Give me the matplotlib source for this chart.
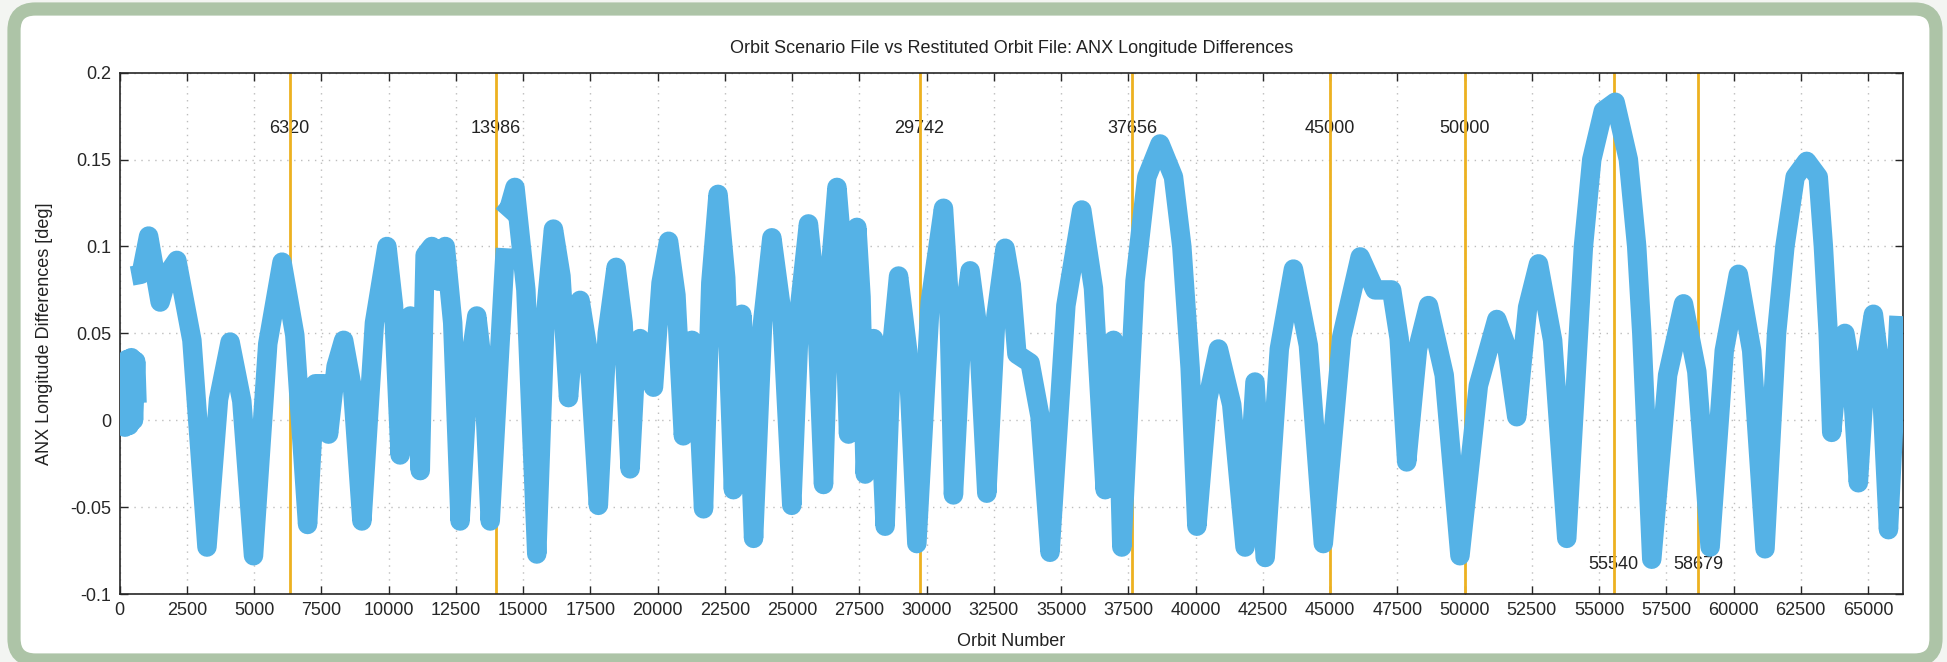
import numpy as np
import matplotlib
matplotlib.use("Agg")
from matplotlib import pyplot as plt
from matplotlib.patches import FancyBboxPatch
from matplotlib.ticker import FuncFormatter

plt.rcParams['font.family'] = ['Liberation Sans', 'DejaVu Sans']
plt.rcParams['axes.unicode_minus'] = False

# ANX longitude difference envelope (nan = gap in the data)
orbit = [0, 60, 130, 200, 280, 360, 440, 520, 600, 650, 650,
         450, 800, 1080, 1510, 1820, 2130, 2690, 3250, 3680, 4110, 4545, 4980,
         5510, 6040, 6515, 6990, 7280, 7600, 7770, 8050, 8330, 8670, 9010, 9475,
         9940, 10185, 10430, 10620, 10810, 10995, 11180, 11360, 11610, 11860,
         12110, 12385, 12660, 12970, 13280, 13530, 13780, 14340, 14340,
         14250, 14480, 14700, 15105, 15510, 15820, 16130, 16410, 16690, 16905,
         17120, 17460, 17800, 18130, 18460, 18720, 18980, 19165, 19350, 19850,
         20130, 20410, 20685, 20960, 21280, 21495, 21710, 21980, 22250, 22535,
         22820, 22975, 23130, 23350, 23570, 23910, 24250, 24620, 24990, 25300,
         25610, 25890, 26170, 26420, 26670, 26885, 27100, 27255, 27410, 27565,
         27720, 27875, 28030, 28245, 28460, 28710, 28960, 29300, 29640, 30135,
         30630, 30815, 31000, 31310, 31620, 31930, 32240, 32580, 32920, 33150,
         33360, 33850, 34220, 34590, 35180, 35770, 36205, 36640, 36795, 36950,
         37105, 37260, 37750, 38190, 38680, 39180, 39490, 39800, 40050, 40450,
         40850, 41345, 41840, 42210, 42590, 43115, 43640, 44195, 44750, 45435,
         46120, 46670, 47290, 47570, 47850, 48255, 48660, 49245, 49830, 50515,
         51200, 51570, 51940, 52345, 52750, 53275, 53800, 54420, 54730, 55160,
         55600, 56090, 56400, 56590, 56960, 57550, 58140, 58635, 59130, 59655,
         60180, 60675, 61170, 61600, 61910, 62290, 62720, 63150, 63340, 63520,
         63650, 63895, 64140, 64390, 64640, 64920, 65200, 65480, 65760, 66150]
anx_diff = [0.005, -0.003, 0.020, -0.004, 0.035, -0.003, 0.036, 0.000, 0.034, 0.010, np.nan,
            0.083, 0.084, 0.106, 0.068, 0.085, 0.092, 0.046, -0.073, 0.012, 0.045, 0.011, -0.078,
            0.044, 0.091, 0.049, -0.060, 0.021, 0.021, -0.008, 0.031, 0.046, 0.017, -0.058, 0.056,
            0.100, 0.066, -0.020, 0.038, 0.060, 0.035, -0.029, 0.095, 0.100, 0.080,
            0.100, 0.056, -0.058, 0.027, 0.060, 0.027, -0.058, 0.099, np.nan,
            0.118, 0.122, 0.134, 0.075, -0.077, 0.058, 0.110, 0.083, 0.013, 0.053,
            0.069, 0.036, -0.049, 0.050, 0.088, 0.056, -0.028, 0.026, 0.047, 0.019,
            0.079, 0.103, 0.072, -0.009, 0.046, 0.019, -0.051, 0.079, 0.130, 0.082,
            -0.040, 0.033, 0.061, 0.025, -0.068, 0.057, 0.105, 0.062, -0.049, 0.068,
            0.113, 0.071, -0.037, 0.086, 0.134, 0.094, -0.008, 0.078, 0.111, 0.071,
            -0.031, 0.025, 0.047, 0.017, -0.061, 0.043, 0.083, 0.040, -0.071, 0.068,
            0.122, 0.076, -0.043, 0.050, 0.086, 0.050, -0.042, 0.060, 0.099, 0.078,
            0.038, 0.033, 0.002, -0.076, 0.066, 0.121, 0.076, -0.040, 0.022, 0.046,
            0.013, -0.073, 0.080, 0.140, 0.159, 0.140, 0.100, 0.030, -0.061, 0.012,
            0.041, 0.009, -0.073, 0.022, -0.079, 0.041, 0.087, 0.043, -0.071, 0.048,
            0.094, 0.075, 0.075, 0.047, -0.024, 0.041, 0.066, 0.026, -0.078, 0.020,
            0.058, 0.042, 0.002, 0.065, 0.090, 0.046, -0.068, 0.100, 0.150, 0.178,
            0.183, 0.150, 0.100, 0.050, -0.080, 0.026, 0.067, 0.028, -0.073, 0.040,
            0.084, 0.040, -0.074, 0.050, 0.100, 0.140, 0.149, 0.140, 0.100, 0.050,
            -0.007, 0.034, 0.050, 0.026, -0.036, 0.034, 0.061, 0.026, -0.063, 0.060]

# marked orbits and where their labels sit
event_orbits = [6320, 13986, 29742, 37656, 45000, 50000, 55540, 58679]
event_label_y = [0.168, 0.168, 0.168, 0.168, 0.168, 0.168, -0.083, -0.083]

xticks = list(range(0, 65001, 2500))
yticks = [-0.1, -0.05, 0, 0.05, 0.1, 0.15, 0.2]

fig = plt.figure(figsize=(19.47, 6.62), dpi=100, facecolor='#f3f5f2')
frame = FancyBboxPatch((14 / 1947, 2 / 662), 1922 / 1947, 651 / 662,
                       boxstyle='round,pad=0,rounding_size=0.011',
                       mutation_aspect=1947 / 662, transform=fig.transFigure,
                       facecolor='white', edgecolor='#adc4a7', linewidth=9.5, zorder=-10)
fig.patches.append(frame)

ax = fig.add_axes([0.0614, 0.1027, 0.916, 0.7875])
ax.set_zorder(1)

for x, ly in zip(event_orbits, event_label_y):
    ax.axvline(x, color='#edb120', lw=2, zorder=2)
    ax.text(x, ly, str(x), ha='center', va='center', fontsize=13, color='#222222', zorder=1)

ax.plot(orbit, anx_diff, color='#55b2e6', lw=14, solid_joinstyle='round',
        solid_capstyle='butt', zorder=3)

ax.set_xlim(0, 66300)
ax.set_ylim(-0.1, 0.2)
ax.set_xticks(xticks)
ax.set_yticks(yticks)
ax.yaxis.set_major_formatter(FuncFormatter(lambda v, p: '%g' % v))
ax.tick_params(direction='in', top=True, right=True, length=6, width=1,
               labelsize=13, colors='#262626', pad=6)
ax.grid(True, linestyle=(0, (1, 4)), color='#bdbdbd', lw=1)
ax.set_axisbelow(True)
for s in ax.spines.values():
    s.set_color('#262626')
    s.set_linewidth(1.2)

ax.set_title('Orbit Scenario File vs Restituted Orbit File: ANX Longitude Differences',
             fontsize=13, color='#222222', pad=14.5)
ax.set_xlabel('Orbit Number', fontsize=13, color='#222222', labelpad=10)
ax.set_ylabel('ANX Longitude Differences [deg]', fontsize=13, color='#222222', labelpad=12.5)

fig.savefig('out.png', dpi=100, facecolor=fig.get_facecolor())
